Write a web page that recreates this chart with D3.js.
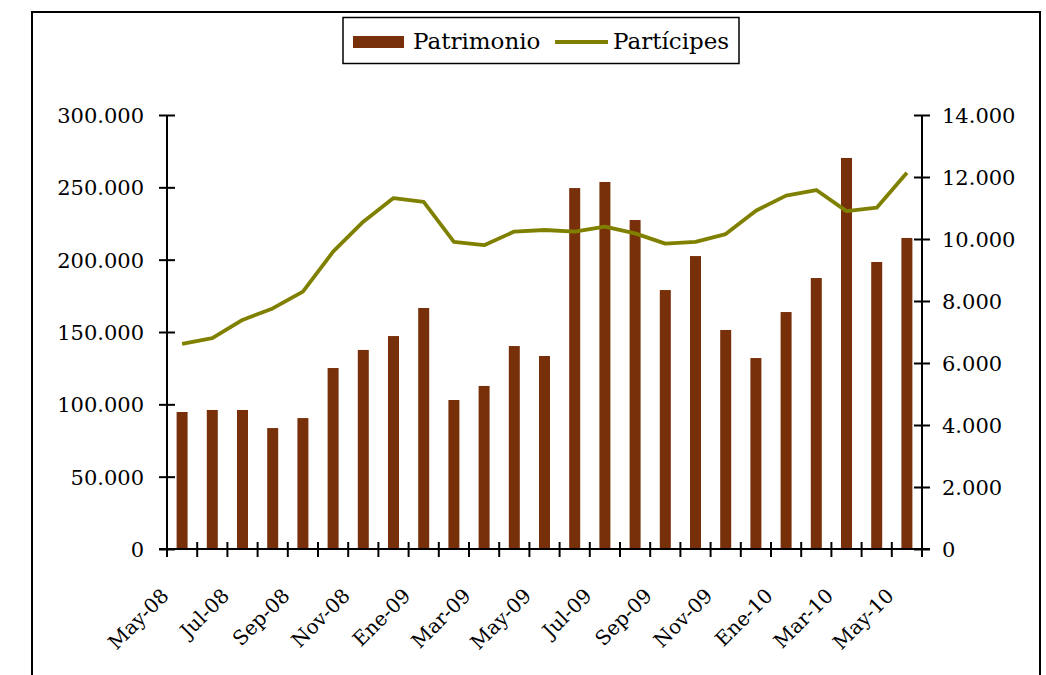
<!DOCTYPE html>
<html><head><meta charset="utf-8">
<script src="https://cdn.jsdelivr.net/npm/d3@7"></script>
<style>body{margin:0;background:#fff}svg{display:block}text{font-family:"DejaVu Serif",serif;fill:#000}</style>
</head><body>
<script>
const categories = ["May-08","Jun-08","Jul-08","Ago-08","Sep-08","Oct-08","Nov-08","Dic-08","Ene-09","Feb-09","Mar-09","Abr-09","May-09","Jun-09","Jul-09","Ago-09","Sep-09","Oct-09","Nov-09","Dic-09","Ene-10","Feb-10","Mar-10","Abr-10","May-10"];
const patrimonio = [94700,96100,96100,83600,90500,125100,137600,147200,166600,103000,112700,140300,133400,249500,253700,227400,179000,202500,151400,132000,163800,187300,270300,198400,215000];
const participes = [6620,6800,7390,7760,8300,9590,10560,11320,11200,9910,9800,10240,10290,10240,10400,10180,9850,9910,10160,10910,11400,11580,10900,11010,12140];
const leftTicks = [0,50000,100000,150000,200000,250000,300000];
const rightTicks = [0,2000,4000,6000,8000,10000,12000,14000];
const labelEvery = 2;

const W=1046,H=675;
const svg=d3.select("body").append("svg").attr("width",W).attr("height",H);
const x0=167,x1=922,yTop=115,yBot=549;
const fmt=v=>v===0?"0":d3.format(",")(v).replace(/,/g,".");

svg.append("rect").attr("x",32).attr("y",12).attr("width",1008).attr("height",720)
  .attr("fill","none").attr("stroke","#000").attr("stroke-width",2);

const x=d3.scaleBand().domain(categories).range([x0,x1]).paddingInner(0.636).paddingOuter(0.318);
const yL=d3.scaleLinear().domain([0,300000]).range([yBot,yTop]);
const yR=d3.scaleLinear().domain([0,14000]).range([yBot,yTop]);

// bars
svg.append("g").selectAll("rect").data(patrimonio).join("rect")
  .attr("x",(d,i)=>x(categories[i])).attr("width",x.bandwidth())
  .attr("y",d=>yL(d)).attr("height",d=>yBot-yL(d)).attr("fill","#78300a");

// line
const line=d3.line().x((d,i)=>x(categories[i])+x.bandwidth()/2).y(d=>yR(d));
svg.append("path").datum(participes).attr("d",line).attr("fill","none")
  .attr("stroke","#808000").attr("stroke-width",3.8).attr("stroke-linejoin","round");

// left axis
const gL=svg.append("g").attr("transform",`translate(${x0},0)`)
  .call(d3.axisLeft(yL).tickValues(leftTicks).tickFormat(fmt).tickSize(8).tickPadding(15));
gL.select(".domain").attr("stroke","#000").attr("stroke-width",2).attr("d",`M0,${yTop}V${yBot}`);
gL.selectAll(".tick line").attr("x1",-8).attr("x2",8).attr("stroke","#000").attr("stroke-width",2);
gL.selectAll(".tick text").attr("font-family","DejaVu Serif").attr("font-size",21).attr("dy","0.35em");

// right axis
const gR=svg.append("g").attr("transform",`translate(${x1},0)`)
  .call(d3.axisRight(yR).tickValues(rightTicks).tickFormat(fmt).tickSize(8).tickPadding(12));
gR.select(".domain").attr("stroke","#000").attr("stroke-width",2).attr("d",`M0,${yTop}V${yBot}`);
gR.selectAll(".tick line").attr("x1",-8).attr("x2",8).attr("stroke","#000").attr("stroke-width",2);
gR.selectAll(".tick text").attr("font-family","DejaVu Serif").attr("font-size",21).attr("dy","0.35em");

// bottom axis
const gB=svg.append("g");
gB.append("line").attr("x1",x0-8).attr("x2",x1+8).attr("y1",yBot).attr("y2",yBot).attr("stroke","#000").attr("stroke-width",2);
const step=x.step();
gB.selectAll("line.t").data(d3.range(categories.length+1)).join("line").attr("class","t")
  .attr("x1",i=>x0+i*step).attr("x2",i=>x0+i*step).attr("y1",yBot-7).attr("y2",yBot+8)
  .attr("stroke","#000").attr("stroke-width",2);
gB.selectAll("text").data(categories.filter((c,i)=>i%labelEvery===0)).join("text")
  .attr("transform",d=>`translate(${x(d)+x.bandwidth()/2-12},597) rotate(-45)`)
  .attr("text-anchor","end").attr("font-size",20).text(d=>d);

// legend
const lg=svg.append("g");
lg.append("rect").attr("x",343).attr("y",17.5).attr("width",396).attr("height",46)
  .attr("fill","#fff").attr("stroke","#000").attr("stroke-width",1.5);
lg.append("rect").attr("x",353).attr("y",36).attr("width",51).attr("height",12).attr("fill","#78300a");
lg.append("text").attr("x",413).attr("y",49).attr("font-size",23).text("Patrimonio");
lg.append("line").attr("x1",555).attr("x2",608).attr("y1",42).attr("y2",42).attr("stroke","#808000").attr("stroke-width",3.8);
lg.append("text").attr("x",613).attr("y",49).attr("font-size",23).text("Partícipes");
</script>
</body></html>
